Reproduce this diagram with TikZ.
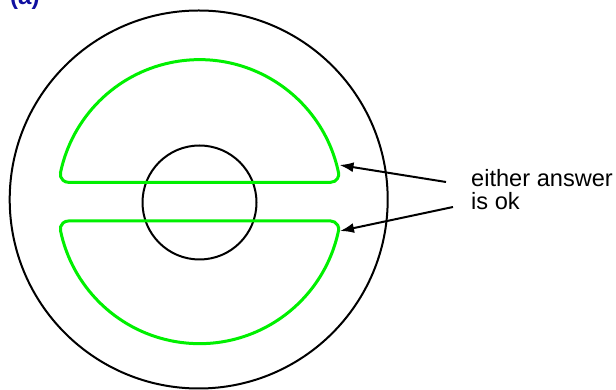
\documentclass[tikz,border=0pt]{standalone}
\usepackage{fontspec}
\setmainfont{Liberation Sans}
\usetikzlibrary{arrows.meta}
\definecolor{labblue}{RGB}{16,16,160}
\definecolor{lgreen}{RGB}{0,240,0}
\begin{document}
\begin{tikzpicture}[x=1pt,y=1pt,
  ring/.style={draw=black,line width=2pt},
  lobe/.style={draw=lgreen,line width=3pt},
  pointer/.style={draw=black,line width=2pt,-{Latex[length=14pt,width=10pt]}},
  lbl/.style={font=\fontsize{23.6}{24}\selectfont,inner sep=0pt,anchor=base west}]
\useasboundingbox (0,0) rectangle (616,390);
% label (a), mostly cut off above the frame
\node[font=\fontsize{24}{24}\selectfont\bfseries,text=labblue,inner sep=0pt,anchor=base west] (lab) at (10,385) {(a)};
% circles
\node[ring,circle,minimum size=378pt,inner sep=0pt] (outer) at (198.7,190.5) {};
\node[ring,circle,minimum size=114pt,inner sep=0pt] (inner) at (199.5,187.5) {};
% green lobes
\begin{scope}[shift={(199.5,188.35)}]
\draw[lobe] (-131.18,19.35) -- (131.18,19.35)
  arc[start angle=-90,end angle=11.78,radius=8]
  arc[start angle=11.78,end angle=168.22,radius=142]
  arc[start angle=168.22,end angle=270,radius=8] -- cycle;
\draw[lobe] (-131.18,-19.35) -- (131.18,-19.35)
  arc[start angle=90,end angle=-11.78,radius=8]
  arc[start angle=-11.78,end angle=-168.22,radius=142]
  arc[start angle=-168.22,end angle=-270,radius=8] -- cycle;
\end{scope}
% text
\node[lbl] (t1) at (471,203.3) {either answer};
\node[lbl] (t2) at (471,180.7) {is ok};
% arrows
\coordinate (u0) at (446,208);
\coordinate (u1) at (339.5,225);
\coordinate (l0) at (453,183);
\coordinate (l1) at (340,159);
\draw[pointer] (u0) -- (u1);
\draw[pointer] (l0) -- (l1);
\end{tikzpicture}
\end{document}
